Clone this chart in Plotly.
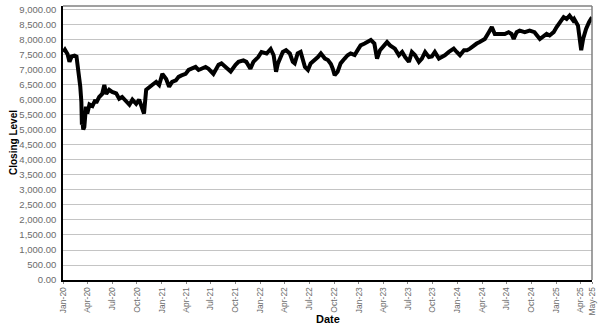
import plotly.graph_objects as go

# Closing level readings (approximate)
dates = [
    "2020-01-02", "2020-01-08", "2020-01-18", "2020-01-25", "2020-02-02", "2020-02-13",
    "2020-02-20", "2020-02-24", "2020-03-02", "2020-03-05", "2020-03-09", "2020-03-11",
    "2020-03-13", "2020-03-16", "2020-03-20", "2020-03-26", "2020-03-31", "2020-04-08",
    "2020-04-19", "2020-04-30", "2020-05-03", "2020-05-14", "2020-05-25", "2020-06-02",
    "2020-06-09", "2020-06-20", "2020-07-01", "2020-07-16", "2020-07-27", "2020-08-07",
    "2020-08-22", "2020-09-03", "2020-09-14", "2020-09-28", "2020-10-09", "2020-10-20",
    "2020-10-27", "2020-11-04", "2020-11-15", "2020-11-26", "2020-12-11", "2020-12-22",
    "2021-01-03", "2021-01-17", "2021-01-28", "2021-02-08", "2021-02-22", "2021-03-04",
    "2021-03-15", "2021-03-30", "2021-04-10", "2021-04-21", "2021-05-06", "2021-05-17",
    "2021-05-28", "2021-06-12", "2021-06-23", "2021-07-11", "2021-07-30", "2021-08-10",
    "2021-08-25", "2021-09-13", "2021-10-01", "2021-10-12", "2021-10-30", "2021-11-10",
    "2021-11-25", "2021-12-06", "2021-12-24", "2022-01-05", "2022-01-24", "2022-02-08",
    "2022-02-19", "2022-02-28", "2022-03-07", "2022-03-25", "2022-04-06", "2022-04-20",
    "2022-05-01", "2022-05-08", "2022-05-19", "2022-05-30", "2022-06-15", "2022-06-26",
    "2022-07-06", "2022-07-21", "2022-08-02", "2022-08-13", "2022-08-28", "2022-09-08",
    "2022-09-19", "2022-09-26", "2022-10-03", "2022-10-14", "2022-10-25", "2022-11-09",
    "2022-11-20", "2022-12-01", "2022-12-16", "2022-12-27", "2023-01-07", "2023-01-22",
    "2023-02-03", "2023-02-14", "2023-02-27", "2023-03-09", "2023-03-20", "2023-04-04",
    "2023-04-15", "2023-04-26", "2023-05-14", "2023-05-29", "2023-06-10", "2023-06-21",
    "2023-07-05", "2023-07-16", "2023-07-27", "2023-08-11", "2023-08-22", "2023-09-03",
    "2023-09-17", "2023-09-28", "2023-10-09", "2023-10-24", "2023-11-04", "2023-11-15",
    "2023-11-30", "2023-12-11", "2023-12-18", "2023-12-29", "2024-01-10", "2024-01-25",
    "2024-02-05", "2024-02-16", "2024-03-01", "2024-03-12", "2024-03-23", "2024-04-11",
    "2024-04-26", "2024-05-07", "2024-05-18", "2024-06-06", "2024-06-24", "2024-07-08",
    "2024-07-19", "2024-07-27", "2024-08-07", "2024-08-18", "2024-09-06", "2024-09-24",
    "2024-10-12", "2024-11-01", "2024-11-15", "2024-11-26", "2024-12-07", "2024-12-22",
    "2025-01-02", "2025-01-13", "2025-01-28", "2025-02-08", "2025-02-19", "2025-03-04",
    "2025-03-08", "2025-03-22", "2025-03-26", "2025-04-03", "2025-04-10", "2025-04-21",
    "2025-05-02", "2025-05-13",
]
closing = [
    7600, 7675, 7520, 7270, 7450, 7480,
    7450, 7200, 6770, 6440, 5940, 5180,
    5300, 5015, 5100, 5780, 5550, 5850,
    5800, 6000, 5900, 6100, 6200, 6500,
    6200, 6340, 6270, 6220, 6040, 6100,
    5940, 5840, 6010, 5870, 6010, 5710,
    5550, 6340, 6440, 6500, 6600, 6500,
    6870, 6700, 6440, 6600, 6650, 6770,
    6820, 6870, 7000, 7040, 7100, 7000,
    7040, 7100, 7040, 6870, 7170, 7220,
    7100, 6950, 7170, 7270, 7320, 7270,
    7040, 7270, 7430, 7600, 7550, 7700,
    7490, 6940, 7220, 7600, 7660, 7550,
    7270, 7220, 7550, 7600, 7100, 7000,
    7220, 7320, 7430, 7550, 7380, 7330,
    7200, 7040, 6830, 6940, 7220, 7380,
    7490, 7550, 7500, 7660, 7820, 7880,
    7930, 8000, 7880, 7380, 7660, 7820,
    7930, 7820, 7710, 7490, 7600, 7430,
    7270, 7600, 7500, 7270, 7380, 7600,
    7430, 7450, 7600, 7380, 7430, 7490,
    7600, 7660, 7710, 7600, 7490, 7660,
    7660, 7710, 7820, 7880, 7930, 8030,
    8260, 8430, 8200, 8200, 8200, 8260,
    8200, 8030, 8260, 8310, 8260, 8310,
    8260, 8030, 8150, 8200, 8150, 8260,
    8430, 8590, 8760, 8700, 8810, 8650,
    8700, 8480, 8150, 7660, 8030, 8370,
    8590, 8760,
]

tick_dates = [
    "2020-01-01", "2020-04-01", "2020-07-01", "2020-10-01",
    "2021-01-01", "2021-04-01", "2021-07-01", "2021-10-01",
    "2022-01-01", "2022-04-01", "2022-07-01", "2022-10-01",
    "2023-01-01", "2023-04-01", "2023-07-01", "2023-10-01",
    "2024-01-01", "2024-04-01", "2024-07-01", "2024-10-01",
    "2025-01-01", "2025-04-01", "2025-05-13",
]
tick_labels = [
    "Jan-20", "Apr-20", "Jul-20", "Oct-20",
    "Jan-21", "Apr-21", "Jul-21", "Oct-21",
    "Jan-22", "Apr-22", "Jul-22", "Oct-22",
    "Jan-23", "Apr-23", "Jul-23", "Oct-23",
    "Jan-24", "Apr-24", "Jul-24", "Oct-24",
    "Jan-25", "Apr-25", "May-25",
]
y_ticks = list(range(0, 9001, 500))

FONT = "Liberation Sans, Arial, sans-serif"

fig = go.Figure()
fig.add_trace(go.Scatter(
    x=dates, y=closing, mode="lines",
    line=dict(color="black", width=4),
    hoverinfo="x+y", showlegend=False,
))

fig.update_layout(
    width=601, height=328,
    margin=dict(l=63, r=5, t=4, b=48),
    paper_bgcolor="white", plot_bgcolor="white",
    font=dict(family=FONT, color="#6b6b6b"),
    xaxis=dict(
        type="date",
        range=["2020-01-01", "2025-05-13"],
        tickmode="array", tickvals=tick_dates, ticktext=tick_labels,
        tickangle=-90, tickfont=dict(size=8.5, color="#6b6b6b", family=FONT),
        showgrid=False, zeroline=False,
        showline=True, linecolor="black", linewidth=1.5,
        ticks="outside", ticklen=2, tickcolor="#888888",
    ),
    yaxis=dict(
        range=[0, 9132],
        tickmode="array", tickvals=y_ticks,
        tickformat=",.2f", tickfont=dict(size=9.5, color="#6b6b6b", family=FONT),
        showgrid=True, gridcolor="#c4c4c4", gridwidth=1,
        zeroline=False,
        showline=True, linecolor="black", linewidth=1.5,
        ticks="", ticklabelstandoff=3,
    ),
    shapes=[
        dict(type="line", xref="paper", yref="paper", x0=0, x1=1, y0=1, y1=1,
             line=dict(color="#808080", width=1.5)),
        dict(type="line", xref="paper", yref="paper", x0=1, x1=1, y0=0, y1=1,
             line=dict(color="#808080", width=1.5)),
    ],
    annotations=[
        dict(text="<b>Date</b>", xref="paper", yref="paper", x=0.5, y=-0.0, yshift=-39,
             showarrow=False, xanchor="center", yanchor="middle",
             font=dict(size=11, color="black", family=FONT)),
        dict(text="<b>Closing Level</b>", xref="paper", yref="paper", x=0, xshift=-50, y=0.5,
             showarrow=False, textangle=-90, xanchor="center", yanchor="middle",
             font=dict(size=10, color="black", family=FONT)),
    ],
)

fig.write_html("out.html")
